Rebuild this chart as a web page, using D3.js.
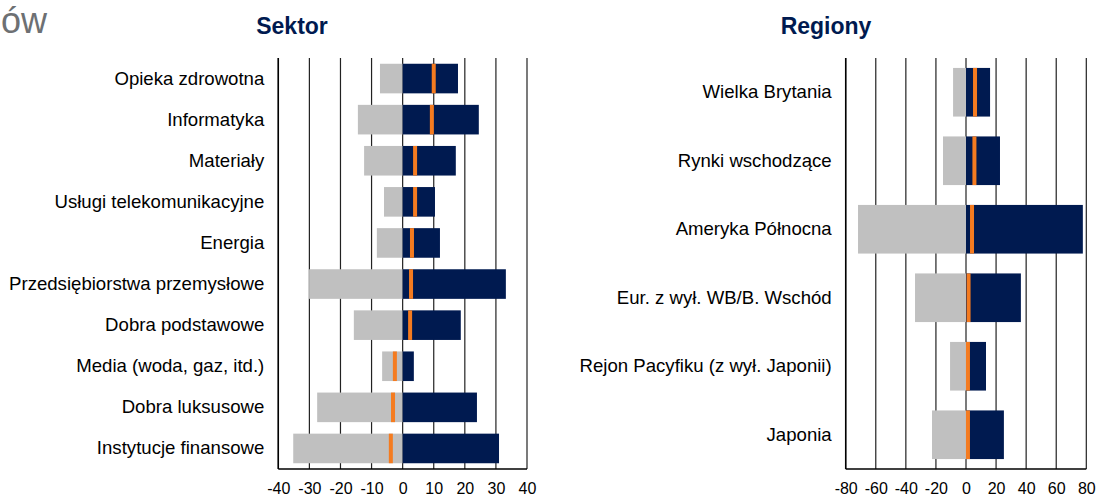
<!DOCTYPE html>
<html>
<head>
<meta charset="utf-8">
<script src="https://cdn.jsdelivr.net/npm/d3@7"></script>
<style>
  body { margin: 0; background: #fff; }
  svg { display: block; font-family: "Liberation Sans", Arial, sans-serif; }
</style>
</head>
<body>
<svg id="chart" width="1096" height="496"></svg>
<script>
// sector panel data
const sectors = ["Opieka zdrowotna", "Informatyka", "Materiały", "Usługi telekomunikacyjne", "Energia",
  "Przedsiębiorstwa przemysłowe", "Dobra podstawowe", "Media (woda, gaz, itd.)", "Dobra luksusowe", "Instytucje finansowe"]
const sectorNeg = [-7.3, -14.4, -12.4, -6.0, -8.3, -30.1, -15.7, -6.6, -27.5, -35.2]
const sectorPos = [17.8, 24.5, 17.1, 10.4, 12.0, 33.2, 18.7, 3.6, 23.9, 31.0]
const sectorNet = [10.0, 9.4, 4.0, 4.0, 3.0, 2.7, 2.4, -2.5, -3.1, -3.8]
const sectorTicks = [-40, -30, -20, -10, 0, 10, 20, 30, 40]

// region panel data
const regions = ["Wielka Brytania", "Rynki wschodzące", "Ameryka Północna", "Eur. z wył. WB/B. Wschód",
  "Rejon Pacyfiku (z wył. Japonii)", "Japonia"]
const regionNeg = [-8.6, -15.3, -71.8, -33.9, -10.6, -22.6]
const regionPos = [16.0, 22.6, 77.7, 36.5, 13.3, 25.2]
const regionNet = [6.0, 5.6, 4.0, 1.7, 1.3, 1.3]
const regionTicks = [-80, -60, -40, -20, 0, 20, 40, 60, 80]

const GREY = "#c0c0c0", NAVY = "#001a50", ORANGE = "#f47b20"
const plotTop = 58, plotBottom = 469

const svg = d3.select("#chart")

// page title remnant at top-left
svg.append("text").attr("x", 47).attr("y", 33).attr("text-anchor", "end")
  .style("font-size", "36px").style("fill", "#6d7073").text("ów")

function drawPanel(opts) {
  const x = d3.scaleLinear().domain(opts.domain).range(opts.xRange)
  const y = d3.scaleBand().domain(opts.cats).range([plotTop, plotBottom])
    .paddingInner(opts.pad).paddingOuter(opts.pad / 2)
  const g = svg.append("g")

  // title
  g.append("text").attr("x", opts.titleX).attr("y", 34).attr("text-anchor", "middle")
    .style("font-size", "23px").style("font-weight", "bold").style("fill", NAVY).text(opts.title)

  // vertical grid lines
  g.append("g").selectAll("line").data(opts.ticks).join("line")
    .attr("x1", d => x(d)).attr("x2", d => x(d))
    .attr("y1", plotTop).attr("y2", plotBottom)
    .attr("stroke", "#222").attr("stroke-width", 1.2)

  const rows = opts.cats.map((c, i) => ({cat: c, neg: opts.neg[i], pos: opts.pos[i], net: opts.net[i]}))

  // grey (negative) part
  g.append("g").selectAll("rect").data(rows).join("rect")
    .attr("x", d => x(d.neg)).attr("width", d => x(0) - x(d.neg))
    .attr("y", d => y(d.cat)).attr("height", y.bandwidth())
    .attr("fill", GREY)

  // navy (positive) part
  g.append("g").selectAll("rect").data(rows).join("rect")
    .attr("x", x(0)).attr("width", d => x(d.pos) - x(0))
    .attr("y", d => y(d.cat)).attr("height", y.bandwidth())
    .attr("fill", NAVY)

  // orange net marker
  g.append("g").selectAll("rect").data(rows).join("rect")
    .attr("x", d => x(d.net) - 2).attr("width", 4)
    .attr("y", d => y(d.cat)).attr("height", y.bandwidth())
    .attr("fill", ORANGE)

  // axes lines
  g.append("line").attr("x1", x.range()[0]).attr("x2", x.range()[1])
    .attr("y1", plotBottom).attr("y2", plotBottom).attr("stroke", "#000").attr("stroke-width", 1.5)
  g.append("line").attr("x1", x.range()[0]).attr("x2", x.range()[0])
    .attr("y1", plotTop).attr("y2", plotBottom).attr("stroke", "#000").attr("stroke-width", 1.5)

  // bottom tick labels (plain hyphen minus like the original)
  const xAxis = g.append("g").attr("transform", `translate(0,${plotBottom})`)
    .call(d3.axisBottom(x).tickValues(opts.ticks).tickSize(0).tickPadding(13.5).tickFormat(d => String(d)))
  xAxis.select(".domain").remove()
  xAxis.selectAll("text").style("font-size", "16px").style("font-family", "Liberation Sans, Arial, sans-serif").attr("fill", "#000")

  // category labels
  const yAxis = g.append("g").attr("transform", `translate(${x.range()[0]},0)`)
    .call(d3.axisLeft(y).tickSize(0).tickPadding(opts.labelPad))
  yAxis.select(".domain").remove()
  yAxis.selectAll("text").style("font-size", "18.6px").style("font-family", "Liberation Sans, Arial, sans-serif").attr("fill", "#000")
}

drawPanel({title: "Sektor", titleX: 292, cats: sectors, neg: sectorNeg, pos: sectorPos, net: sectorNet,
  domain: [-40, 40], xRange: [278.3, 527], ticks: sectorTicks, pad: 0.28, labelPad: 14})

drawPanel({title: "Regiony", titleX: 826, cats: regions, neg: regionNeg, pos: regionPos, net: regionNet,
  domain: [-80, 80], xRange: [845.7, 1086.3], ticks: regionTicks, pad: 0.29, labelPad: 14})
</script>
</body>
</html>
